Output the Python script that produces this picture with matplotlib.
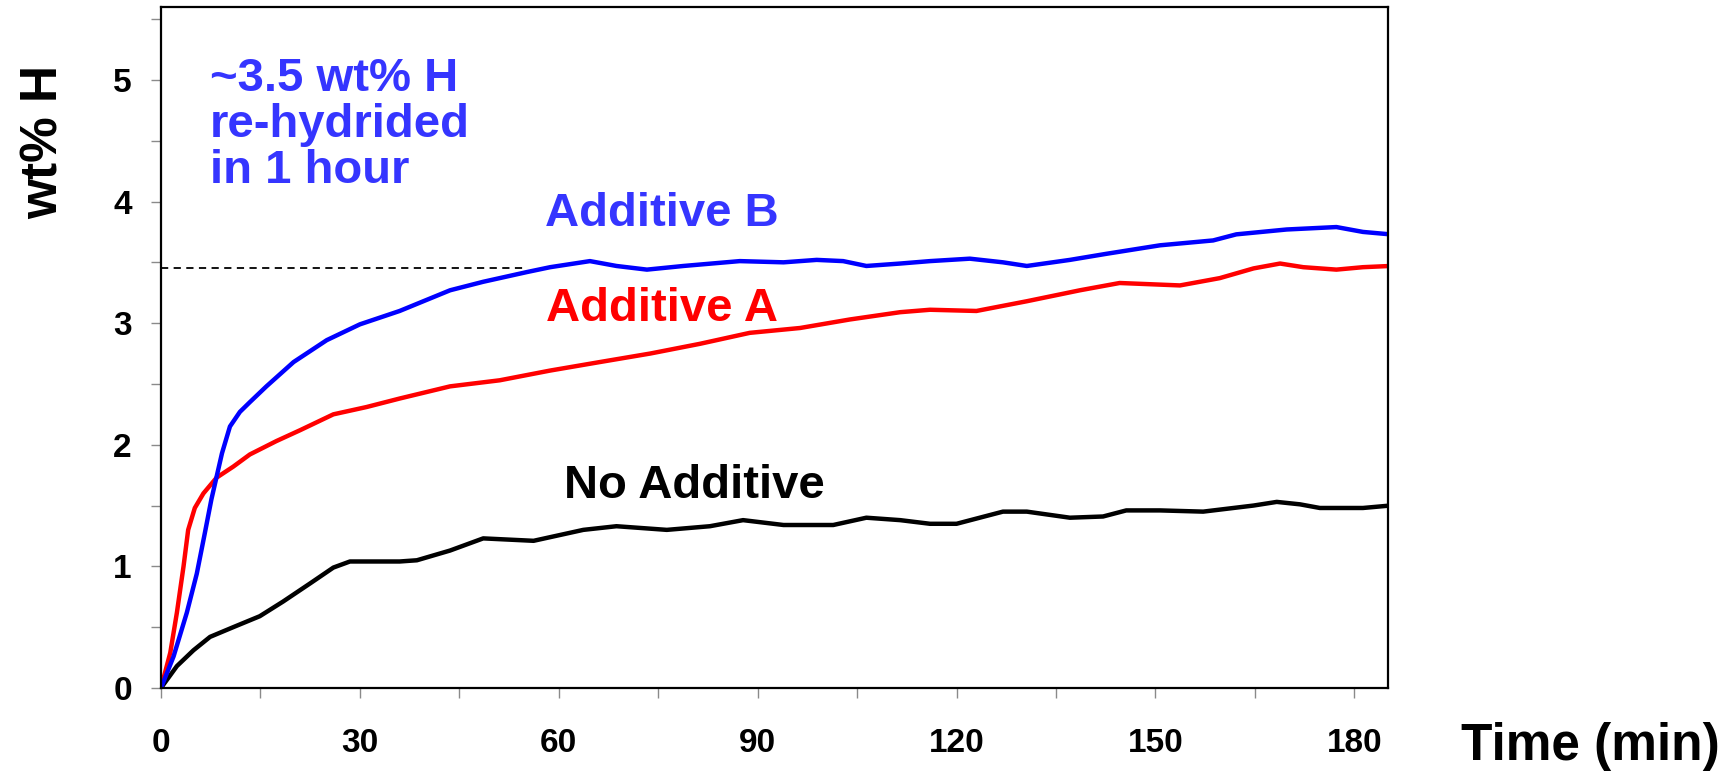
import matplotlib.pyplot as plt
from matplotlib.ticker import MultipleLocator

plt.rcParams['font.family'] = ['Liberation Sans', 'DejaVu Sans']
plt.rcParams['font.weight'] = 'bold'

# absorption curves: time (min) vs wt% H
t_b = [0, 1.9, 3.9, 5.4, 6.6, 7.6, 8.4, 9.2, 10.4, 11.9, 13.4, 15.9, 20, 25, 30,
       36, 43.6, 48.6, 55.2, 58.7, 64.7, 68.7, 73.3, 78.8, 87.3, 93.9, 98.9,
       102.9, 106.4, 111.5, 116, 122, 127, 130.6, 137.1, 142.6, 150.7, 158.7,
       162.2, 169.8, 177.3, 181.3, 185.4]
h_b = [0, 0.26, 0.62, 0.94, 1.27, 1.55, 1.74, 1.93, 2.15, 2.27, 2.35, 2.48, 2.68,
       2.86, 2.99, 3.10, 3.27, 3.34, 3.42, 3.46, 3.51, 3.47, 3.44, 3.47, 3.51,
       3.50, 3.52, 3.51, 3.47, 3.49, 3.51, 3.53, 3.50, 3.47, 3.52, 3.57, 3.64,
       3.68, 3.73, 3.77, 3.79, 3.75, 3.73]

t_a = [0, 1.4, 2.4, 3.4, 4.1, 5.1, 6.4, 8.4, 10.9, 13.4, 17.4, 21, 26, 31, 36,
       43.6, 51.1, 58.7, 66.2, 73.8, 81.3, 88.8, 96.4, 103.9, 111.5, 116, 123,
       130.6, 138.6, 144.6, 153.7, 159.7, 164.8, 168.8, 172.3, 177.3, 181.3, 185.4]
h_a = [0, 0.29, 0.62, 1.0, 1.3, 1.48, 1.6, 1.73, 1.82, 1.92, 2.03, 2.12, 2.25,
       2.31, 2.38, 2.48, 2.53, 2.61, 2.68, 2.75, 2.83, 2.92, 2.96, 3.03, 3.09,
       3.11, 3.10, 3.18, 3.27, 3.33, 3.31, 3.37, 3.45, 3.49, 3.46, 3.44, 3.46, 3.47]

t_n = [0, 2.4, 4.9, 7.4, 10.9, 14.9, 18.4, 22.5, 26, 28.5, 36, 38.6, 43.6, 48.6,
       56.2, 63.7, 68.7, 76.3, 82.8, 87.8, 93.9, 101.4, 106.4, 111.5, 116, 120,
       127, 130.6, 137.1, 142.1, 145.6, 150.7, 157.2, 164.8, 168.3, 171.8, 174.8,
       181.3, 185.4]
h_n = [0, 0.18, 0.31, 0.42, 0.50, 0.59, 0.71, 0.86, 0.99, 1.04, 1.04, 1.05, 1.13,
       1.23, 1.21, 1.30, 1.33, 1.30, 1.33, 1.38, 1.34, 1.34, 1.40, 1.38, 1.35,
       1.35, 1.45, 1.45, 1.40, 1.41, 1.46, 1.46, 1.45, 1.50, 1.53, 1.51, 1.48,
       1.48, 1.50]

# 1 hour reference level
ref_t = [0, 55]
ref_h = [3.45, 3.45]

x_ticks = [0, 30, 60, 90, 120, 150, 180]
y_ticks = [0, 1, 2, 3, 4, 5]

fig = plt.figure(figsize=(17.33, 7.71), dpi=100)
ax = fig.add_axes([0.0929, 0.1077, 0.7081, 0.8833])

ax.plot(t_n, h_n, color='black', lw=3.2)
ax.plot(t_a, h_a, color='#ff0000', lw=3.2)
ax.plot(t_b, h_b, color='#0000ff', lw=3.2)
ax.plot(ref_t, ref_h, color='black', lw=1.3, linestyle=(0, (4, 3)))

ax.set_xlim(0, 185.1)
ax.set_ylim(0, 5.6)
ax.set_xticks(x_ticks)
ax.set_yticks(y_ticks)
ax.xaxis.set_minor_locator(MultipleLocator(15))
ax.yaxis.set_minor_locator(MultipleLocator(0.5))
ax.tick_params(which='both', direction='out', length=7, width=1, color='#8a8a8a')
ax.tick_params(axis='x', pad=22, labelsize=24)
ax.tick_params(axis='y', pad=14, labelsize=24)
for lab in ax.get_xticklabels() + ax.get_yticklabels():
    lab.set_fontweight('bold')
for s in ax.spines.values():
    s.set_linewidth(1.6)

# curve labels
ax.text(7.4, 4.63, '~3.5 wt% H\nre-hydrided\nin 1 hour', color='#3535ff',
        fontsize=34, fontweight='bold', ha='left', va='center', linespacing=1.05)
ax.text(57.9, 3.9, 'Additive B', color='#3535ff', fontsize=34,
        fontweight='bold', ha='left', va='center')
ax.text(58, 3.12, 'Additive A', color='#ff0000', fontsize=34,
        fontweight='bold', ha='left', va='center')
ax.text(60.8, 1.66, 'No Additive', color='black', fontsize=34,
        fontweight='bold', ha='left', va='center')

fig.text(0.0254, 0.816, 'wt% H', rotation=90, fontsize=37, fontweight='bold',
         ha='center', va='center')
fig.text(0.843, 0.0324, 'Time (min)', fontsize=37, fontweight='bold',
         ha='left', va='center')

plt.savefig('out.png')
